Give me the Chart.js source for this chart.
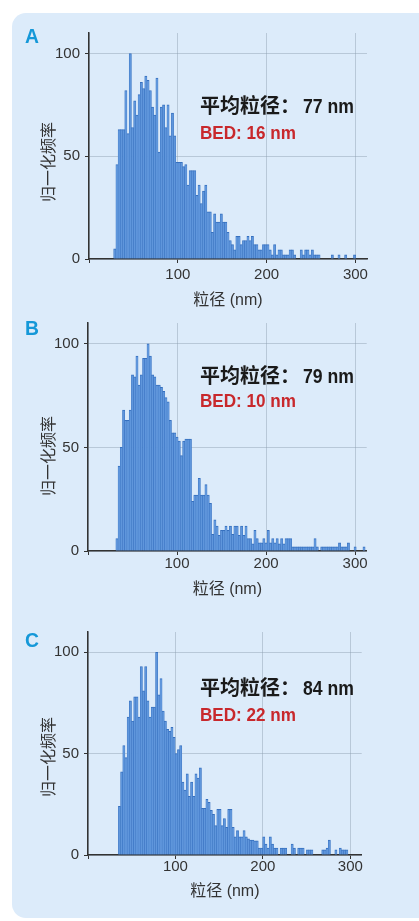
<!DOCTYPE html>
<html>
<head>
<meta charset="utf-8">
<script src="https://cdn.jsdelivr.net/npm/chart.js@4.4.1/dist/chart.umd.min.js"></script>
<style>
  html, body { margin: 0; padding: 0; background: #fff; }
  body { width: 419px; height: 921px; position: relative; overflow: hidden; }
  #panel { position: absolute; left: 12px; top: 13px; width: 440px; height: 905px; background: #dcebfa; border-radius: 14px; }
  canvas.plot { position: absolute; left: 0; }
  .letter { position: absolute; font: bold 21px "Liberation Sans", Arial, sans-serif; color: #1598d8; line-height: 1; transform: scaleX(0.92); transform-origin: left top; }
  .ytitle { position: absolute; width: 120px; height: 16px; text-align: center; font: 16px "Noto Sans CJK SC", sans-serif; color: #333; line-height: 16px; transform: rotate(-90deg); }
  .note { position: absolute; left: 200px; line-height: 1; white-space: nowrap; font-weight: bold; font-size: 20px; }
  .cjk { font-family: "Noto Sans CJK SC", sans-serif; color: #1a1a1a; }
  .num { display: inline-block; font-family: "Liberation Sans", Arial, sans-serif; font-size: 19px; transform: scaleX(0.9); transform-origin: left center; }
  .mean { font-size: 20.5px; transform: scaleX(0.86); margin-left: 3px; }
  .bed { color: #c8282c; }
</style>
</head>
<body>
<div id="panel"></div>
<div id="stage"></div>
<script>
// ---------------------------
// Data (normalised frequency per 2.5 nm bin)
// ---------------------------
const binWidth = 2.5;

const startA = 29;
const countsA = [
  5, 46, 63, 63, 63, 82, 61, 100, 64, 77,
  70, 80, 86, 83, 89, 87, 82, 74, 70, 88,
  52, 74, 75, 64, 75, 60, 71, 60, 47, 47,
  47, 45, 46, 36, 43, 43, 43, 31, 36, 27,
  33, 36, 23, 23, 13, 22, 18, 18, 22, 18,
  18, 13, 9, 7, 4.5, 11, 11, 7, 9, 9,
  11, 9, 11, 7, 7, 4.5, 4.5, 7, 7, 7,
  4.5, 2, 7, 2, 4.5, 4.5, 2, 2, 2, 4.5,
  4.5, 2, 0, 0, 4.5, 2, 4.5, 4.5, 2, 4.5,
  2, 2, 2, 0, 0, 0, 0, 0, 2, 0,
  0, 2, 0, 0, 2, 0, 0, 0, 2
];

const startB = 32.5;
const countsB = [
  6, 41, 50, 68, 63, 63, 68, 85, 84, 94,
  80, 85, 93, 93, 100, 94, 85, 84, 80, 80,
  79, 77, 74, 72, 63, 57, 57, 55, 53, 46,
  53, 54, 54, 54, 24, 27, 27, 35, 27, 27,
  32, 27, 23, 8, 15, 12, 7.5, 10, 10, 12,
  10, 12, 8, 12, 12, 7.5, 12, 7.5, 12, 6,
  6, 3.5, 10, 6, 4, 4, 6, 4, 10, 4,
  6, 4, 6, 3.5, 6, 3.5, 6, 6, 6, 2,
  2, 2, 2, 2, 2, 2, 2, 2, 2, 6,
  2, 0, 2, 2, 2, 2, 2, 2, 2, 2,
  4, 2, 2, 2, 4, 0, 0, 2, 0, 0,
  0, 2
];

const startC = 36;
const countsC = [
  24, 41, 54, 48, 68, 76, 66, 78, 78, 68,
  93, 81, 93, 76, 68, 73, 73, 100, 79, 87,
  71, 66, 62, 61, 63, 58, 50, 52, 54, 36,
  32, 40, 29, 36, 29, 40, 38, 43, 23, 23,
  27.5, 26, 22, 20, 14.5, 22.5, 22.5, 14.5, 18, 13.6,
  22.5, 22.5, 13.6, 9, 12, 9, 9, 12, 9, 8,
  7.4, 7.4, 7, 7, 3.4, 3.4, 9, 5.4, 3.4, 9,
  5.4, 3.4, 3.4, 0, 3.4, 3.4, 3.4, 0, 0, 5.4,
  3.4, 0, 3.4, 3.4, 3.4, 0, 2.5, 2.5, 2.5, 0,
  0, 0, 0, 2.5, 2.5, 3.4, 7.4, 0, 0, 2.5,
  0, 3.4, 2.5, 2.5, 2.5
];

const xTicks = [0, 100, 200, 300];
const yTicks = [0, 50, 100];
const xTitle = "粒径 (nm)";
const yTitle = "归一化频率";
const panelLetters = ["A", "B", "C"];
const meanSizes = [77, 79, 84];
const bedValues = [16, 10, 22];

// ---------------------------
// Layout per panel (page pixels)
// ---------------------------
const layouts = [
  { top: 19,    plotH: 226.3, left: 89, right: 367,   tickPad: 4, titlePad: 8.7,  letterTop: 25,  yTitleY: 162, noteTop: 95,  bedTop: 122 },
  { top: 309,   plotH: 227.7, left: 88, right: 366.7, tickPad: 1, titlePad: 11.4, letterTop: 317, yTitleY: 456, noteTop: 365, bedTop: 390 },
  { top: 617.7, plotH: 222.6, left: 88, right: 361.7, tickPad: 0, titlePad: 13.4, letterTop: 629, yTitleY: 757, noteTop: 677, bedTop: 704 }
];

const tickFont = '"Liberation Sans", Arial, sans-serif';
const titleFont = '"Liberation Sans", "Noto Sans CJK SC", sans-serif';
const gridColor = "rgba(140,158,176,0.45)";
const axisColor = "#333";

function makePanel(canvas, counts, start, L) {
  const bars = counts.map((v, i) => ({ x: start + i * binWidth, y: v }));
  return new Chart(canvas, {
    type: "bar",
    data: {
      datasets: [{
        data: bars,
        backgroundColor: "#5f96dc",
        borderColor: "#3670bf",
        borderWidth: { top: 1, left: 0.5, right: 0.5, bottom: 0 },
        barPercentage: 1,
        categoryPercentage: 1
      }]
    },
    options: {
      responsive: false,
      animation: false,
      events: [],
      layout: { padding: { top: 14, right: 419 - L.right, left: 0, bottom: 0 } },
      plugins: { legend: { display: false }, tooltip: { enabled: false } },
      scales: {
        x: {
          type: "linear", min: 0, max: 313, offset: false,
          afterBuildTicks: s => { s.ticks = xTicks.map(v => ({ value: v })); },
          afterFit: s => { s.height = 60; },
          ticks: {
            callback: v => (v === 0 ? "" : v),
            color: axisColor, padding: L.tickPad, maxRotation: 0,
            font: { family: tickFont, size: 15, lineHeight: 1 }
          },
          grid: { offset: false, color: gridColor, tickColor: axisColor, tickLength: 4 },
          border: { color: axisColor, width: 1.5 },
          title: {
            display: true, text: xTitle, color: axisColor,
            font: { family: titleFont, size: 16 },
            padding: { top: 0, bottom: L.titlePad }
          }
        },
        y: {
          min: 0, max: 110,
          afterBuildTicks: s => { s.ticks = yTicks.map(v => ({ value: v })); },
          afterFit: s => { s.width = L.left; },
          ticks: { color: axisColor, padding: 5, font: { family: tickFont, size: 15 } },
          grid: { color: gridColor, tickColor: axisColor, tickLength: 4 },
          border: { color: axisColor, width: 1.5 }
        }
      }
    }
  });
}

const stage = document.getElementById("stage");
const allCounts = [countsA, countsB, countsC];
const allStarts = [startA, startB, startC];

layouts.forEach((L, i) => {
  const cv = document.createElement("canvas");
  cv.className = "plot";
  cv.width = 419;
  cv.height = Math.round(14 + L.plotH + 60);
  cv.style.top = L.top + "px";
  stage.appendChild(cv);
  makePanel(cv, allCounts[i], allStarts[i], L);

  const letter = document.createElement("div");
  letter.className = "letter";
  letter.style.left = "25px";
  letter.style.top = L.letterTop + "px";
  letter.textContent = panelLetters[i];
  stage.appendChild(letter);

  const yt = document.createElement("div");
  yt.className = "ytitle";
  yt.style.left = (47 - 60) + "px";
  yt.style.top = (L.yTitleY - 8) + "px";
  yt.textContent = yTitle;
  stage.appendChild(yt);

  const note = document.createElement("div");
  note.className = "note cjk";
  note.style.top = L.noteTop + "px";
  note.innerHTML = `平均粒径：<span class="num mean">${meanSizes[i]} nm</span>`;
  stage.appendChild(note);

  const bed = document.createElement("div");
  bed.className = "note";
  bed.style.top = L.bedTop + "px";
  bed.innerHTML = `<span class="num bed">BED: ${bedValues[i]} nm</span>`;
  stage.appendChild(bed);
});
</script>
</body>
</html>
